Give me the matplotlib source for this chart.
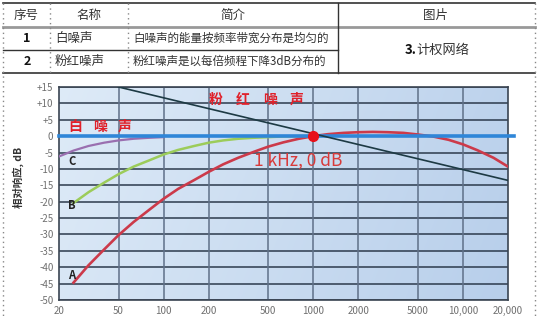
import numpy as np
import matplotlib
matplotlib.use("Agg")
import matplotlib.pyplot as plt
from matplotlib.lines import Line2D

plt.rcParams['font.family'] = ['Noto Sans CJK SC', 'DejaVu Sans']

# ---------------- data ----------------
table_header = ["序号", "名称", "简介", "图片"]
row_ids = ["1", "2"]
row_names = ["白噪声", "粉红噪声"]
row_desc = ["白噪声的能量按频率带宽分布是均匀的", "粉红噪声是以每倍频程下降3dB分布的"]
picture_num = "3."
picture_cell = "计权网络"

a_freq = [25, 31.5, 40, 50, 63, 80, 100, 125, 160, 200, 250, 315, 400, 500, 630, 800,
          1000, 1250, 1600, 2000, 2500, 3150, 4000, 5000, 6300, 8000, 10000, 12500, 16000, 20000]
a_db = [-44.7, -39.4, -34.6, -30.2, -26.2, -22.5, -19.1, -16.1, -13.4, -10.9, -8.6, -6.6,
        -4.8, -3.2, -1.9, -0.8, 0.0, 0.6, 1.0, 1.2, 1.3, 1.2, 1.0, 0.5, -0.1, -1.1, -2.5,
        -4.3, -6.6, -9.3]
b_freq = [25, 31.5, 40, 50, 63, 80, 100, 125, 160, 200, 250, 315, 400, 500, 630, 800, 1000]
b_db = [-20.4, -17.1, -14.2, -11.6, -9.3, -7.4, -5.6, -4.2, -3.0, -2.0, -1.3, -0.8, -0.5,
        -0.3, -0.1, 0.0, 0.0]
c_freq = [20, 25, 31.5, 40, 50, 63, 80, 100]
c_db = [-6.2, -4.4, -3.0, -2.0, -1.3, -0.8, -0.5, -0.3]
white_freq = [20, 22000]
white_db = [0, 0]
pink_freq = [50, 20000]
pink_db = [15, -13.5]
ref_freq = [1000]
ref_db = [0]

x_ticks = [20, 50, 100, 200, 500, 1000, 2000, 5000, 10000, 20000]
x_labels = ["20", "50", "100", "200", "500", "1000", "2000", "5000", "10,000", "20,000"]
y_ticks = list(range(15, -55, -5))
y_labels = ["+15", "+10", "+5", "0", "-5", "-10", "-15", "-20", "-25", "-30", "-35",
            "-40", "-45", "-50"]

# ---------------- figure ----------------
W, H = 539, 320
fig = plt.figure(figsize=(W / 100, H / 100), dpi=100)
fig.patch.set_facecolor("white")


def fx(x):
    return x / W


def fy(y):
    return 1 - y / H


def hline(x0, x1, y, **kw):
    fig.add_artist(Line2D([fx(x0), fx(x1)], [fy(y), fy(y)], transform=fig.transFigure, **kw))


def vline(x, y0, y1, **kw):
    fig.add_artist(Line2D([fx(x), fx(x)], [fy(y0), fy(y1)], transform=fig.transFigure, **kw))


def ftext(x, y, s, **kw):
    return fig.text(fx(x), fy(y), s, ha=kw.pop("ha", "center"), va=kw.pop("va", "center"), **kw)


# table lines
dark = "#333333"
hline(3, 535, 3, color=dark, lw=1.2)
hline(3, 535, 27, color="#999999", lw=2.0)
hline(3, 338, 50, color=dark, lw=1.0)
hline(3, 535, 73, color=dark, lw=1.2)
vline(338, 3, 73, color=dark, lw=1.0)
dot = dict(color="#888888", lw=1.0, ls=(0, (1, 2.5)))
vline(50, 3, 73, **dot)
vline(128, 3, 73, **dot)
vline(3, 3, 318, **dot)
vline(535, 3, 318, **dot)

tc = "#333333"
ftext(26, 15, table_header[0], fontsize=9, color=tc)
ftext(89, 15, table_header[1], fontsize=9, color=tc)
ftext(233, 15, table_header[2], fontsize=9, color=tc)
ftext(436, 15, table_header[3], fontsize=9, color=tc)
for i, (rid, nm, ds) in enumerate(zip(row_ids, row_names, row_desc)):
    yy = 38.5 + 23 * i
    ftext(27, yy, rid, fontsize=9, color="#111111", fontweight="bold")
    ftext(55, yy, nm, fontsize=9, color=tc, ha="left")
    ftext(133, yy, ds, fontsize=8.3, color=tc, ha="left")
ftext(405, 50, picture_num, fontsize=9.5, color="#111111", fontweight="bold", ha="left")
ftext(416, 50, picture_cell, fontsize=9.5, color=tc, ha="left")

# ---------------- chart ----------------
ax = fig.add_axes([fx(59), fy(300), (508 - 59) / W, (300 - 87) / H])
ax.set_xscale("log")
ax.set_xlim(20, 20000)
ax.set_ylim(-50, 15)

# gradient background (light on the left, deeper blue on the right)
grad = np.linspace(0, 1, 256)
gx, gy = np.meshgrid(grad, grad)
g = np.clip(0.85 * gx + 0.15 * gy, 0, 1)
left = np.array([0.87, 0.92, 0.97])
right = np.array([0.72, 0.81, 0.92])
img = left[None, None, :] * (1 - g[..., None]) + right[None, None, :] * g[..., None]
ax.imshow(img, extent=[0, 1, 0, 1], transform=ax.transAxes, aspect="auto", zorder=0,
          origin="upper")

for yv in y_ticks:
    ax.axhline(yv, color="#2c3a4c", lw=1.1, zorder=1)
for xv in x_ticks[1:-1]:
    ax.axvline(xv, color="#5f7088", lw=1.1, zorder=1)

ax.set_xticks(x_ticks)
ax.set_xticklabels(x_labels)
ax.set_yticks(y_ticks)
ax.set_yticklabels(y_labels)
ax.xaxis.set_minor_locator(matplotlib.ticker.NullLocator())
ax.tick_params(length=0, labelsize=7, labelcolor="#707070", pad=4)
for sp in ax.spines.values():
    sp.set_color("#3a4452")
    sp.set_linewidth(1.2)

ax.plot(c_freq, c_db, color="#9a6fb0", lw=1.6, zorder=3)
ax.plot(b_freq, b_db, color="#9ccc5a", lw=1.8, zorder=3)
ax.plot(a_freq, a_db, color="#cc3a4a", lw=1.9, zorder=3)
ax.plot(white_freq, white_db, color="#2f86d8", lw=2.6, zorder=4, clip_on=False)
ax.plot(pink_freq, pink_db, color="#1d3a44", lw=1.2, zorder=5)
ax.plot(ref_freq, ref_db, "o", color="#e8101a", ms=7, zorder=6)

ax.text(23, -7.8, "C", fontsize=8, fontweight="bold", color="#222222", va="center")
ax.text(23, -21.2, "B", fontsize=8, fontweight="bold", color="#222222", va="center")
ax.text(23, -42.5, "A", fontsize=8, fontweight="bold", color="#222222", va="center")

ax.text(400, -7.6, "1 kHz, 0 dB", fontsize=12.5, color="#d83a3a", ha="left", va="center")

red = "#e0202a"
for i, ch in enumerate("粉红噪声"):
    ftext(216 + 27 * i, 100, ch, fontsize=10, color=red, fontweight="bold")
for i, ch in enumerate("白噪声"):
    ftext(75 + 25 * i, 127, ch, fontsize=10, color=red, fontweight="bold")

ftext(18, 177, "相对响应, dB", fontsize=7.5, color="#333333", rotation=90, fontweight="bold")

fig.savefig("out.png", dpi=100)
